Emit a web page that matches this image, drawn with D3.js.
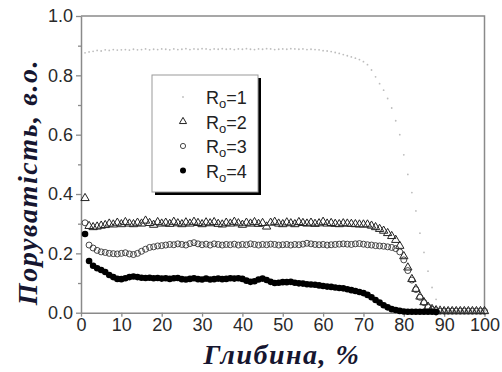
<!DOCTYPE html>
<html>
<head>
<meta charset="utf-8">
<script src="https://cdn.jsdelivr.net/npm/d3@7"></script>
<style>
  body { margin: 0; background: #fff; }
  svg { display: block; }
</style>
</head>
<body>
<script>
// depth grid, %
const depth = [1,2,3,4,5,6,7,8,9,10,11,12,13,14,15,16,17,18,19,20,
  21,22,23,24,25,26,27,28,29,30,31,32,33,34,35,36,37,38,39,40,
  41,42,43,44,45,46,47,48,49,50,51,52,53,54,55,56,57,58,59,60,
  61,62,63,64,65,66,67,68,69,70,71,72,73,74,75,76,77,78,79,80,
  81,82,83,84,85,86,87,88,89,90,91,92,93,94,95,96,97,98,99,100];

const r1 = [.876,.879,.881,.884,.882,.886,.884,.887,.885,.886,.887,.885,.888,.886,.887,.889,.886,.888,.887,.889,
  .888,.886,.889,.887,.888,.890,.887,.889,.888,.890,.889,.887,.889,.888,.890,.888,.889,.887,.889,.888,
  .890,.888,.887,.889,.888,.890,.889,.887,.888,.889,.888,.890,.889,.888,.889,.887,.888,.887,.886,.883,
  .882,.880,.877,.874,.870,.866,.862,.858,.853,.846,.836,.818,.795,.772,.750,.722,.690,.647,.600,.532,
  .466,.405,.343,.268,.203,.140,.085,.045,.022,.012,.008,.006,.005,.005,.004,.004,.004,.004,.004,.004];

const r2 = [.386,.292,.288,.290,.293,.295,.300,.297,.303,.298,.305,.300,.298,.303,.300,.310,.302,.296,.305,.300,
  .303,.299,.306,.301,.298,.304,.300,.306,.302,.298,.304,.301,.305,.299,.297,.303,.300,.306,.301,.296,
  .303,.300,.305,.299,.302,.290,.303,.306,.300,.298,.304,.301,.298,.305,.302,.300,.303,.299,.301,.306,
  .300,.302,.299,.298,.301,.300,.299,.298,.297,.297,.297,.293,.288,.282,.276,.268,.258,.245,.225,.190,
  .152,.113,.080,.054,.035,.020,.012,.008,.006,.005,.005,.005,.005,.005,.005,.005,.005,.005,.005,.005];

const r3 = [.303,.228,.218,.210,.205,.203,.200,.199,.198,.200,.202,.198,.196,.200,.207,.214,.220,.222,.225,.226,
  .228,.230,.229,.232,.230,.228,.233,.236,.232,.229,.231,.228,.232,.230,.228,.230,.229,.231,.228,.230,
  .229,.232,.230,.228,.230,.229,.231,.230,.228,.229,.230,.228,.230,.229,.231,.234,.232,.230,.229,.230,
  .228,.229,.230,.231,.232,.231,.230,.232,.233,.231,.229,.228,.226,.225,.224,.222,.220,.216,.205,.178,
  .142,.110,.078,.052,.034,.020,.011,.007,.005,.005,.005,.005,.005,.005,.005,.005,.005,.005,.005,.005];

const r4 = [.265,.174,.158,.150,.144,.137,.127,.120,.114,.113,.116,.120,.122,.120,.118,.117,.118,.116,.117,.115,
  .116,.114,.116,.117,.113,.112,.114,.116,.113,.112,.115,.112,.113,.115,.113,.114,.116,.115,.116,.114,
  .108,.104,.106,.112,.115,.110,.104,.100,.101,.103,.103,.104,.101,.099,.098,.096,.095,.094,.092,.090,
  .088,.087,.085,.083,.082,.079,.076,.073,.070,.066,.060,.052,.043,.034,.025,.018,.012,.009,.006,.004,
  .003,.003,.003,.003,.003,.003,.003,.002];

const seriesNames = ['1', '2', '3', '4'];
const xTicks = [0, 10, 20, 30, 40, 50, 60, 70, 80, 90, 100];
const yTicks = [0, 0.2, 0.4, 0.6, 0.8, 1.0];
const yMinor = [0.1, 0.3, 0.5, 0.7, 0.9];

const width = 502, height = 372;
const plot = {left: 81, top: 16, right: 484.5, bottom: 312.7};

const svg = d3.select('body').append('svg')
  .attr('width', width).attr('height', height);

const x = d3.scaleLinear().domain([0, 100]).range([plot.left, plot.right]);
const y = d3.scaleLinear().domain([0, 1]).range([plot.bottom, plot.top]);

const axisColor = '#8a8a8a';
const labelFont = '"Liberation Sans", Arial, sans-serif';

// frame top + right
svg.append('path')
  .attr('d', `M${plot.left},${plot.top}H${plot.right}V${plot.bottom}`)
  .attr('fill', 'none').attr('stroke', axisColor).attr('stroke-width', 1.5);

svg.append('g')
  .attr('transform', `translate(0,${plot.bottom})`)
  .call(d3.axisBottom(x).tickValues(xTicks).tickSize(4).tickSizeOuter(0).tickPadding(2));

svg.append('g')
  .attr('transform', `translate(${plot.left},0)`)
  .call(d3.axisLeft(y).tickValues(yTicks).tickFormat(d3.format('.1f')).tickSize(5).tickSizeOuter(0).tickPadding(3));

svg.append('g')
  .attr('transform', `translate(${plot.left},0)`)
  .call(d3.axisLeft(y).tickValues(yMinor).tickFormat('').tickSize(3).tickSizeOuter(0))
  .select('.domain').remove();

svg.selectAll('.domain').attr('stroke', axisColor).attr('stroke-width', 1.5);
svg.selectAll('.tick line').attr('stroke', axisColor).attr('stroke-width', 1.3);
svg.selectAll('.tick text')
  .attr('font-family', labelFont).attr('font-size', 18).attr('fill', '#2a2a2a');

// data
const plotG = svg.append('g');

const pts = (vals) => vals.map((v, i) => ({x: depth[i], y: v}));

plotG.append('g').selectAll('circle').data(pts(r1)).join('circle')
  .attr('cx', d => x(d.x)).attr('cy', d => y(d.y)).attr('r', 0.9)
  .attr('fill', '#bdbdbd');

const tri = d3.symbol().type(d3.symbolTriangle).size(30);
plotG.append('g').selectAll('path').data(pts(r2)).join('path')
  .attr('d', tri)
  .attr('transform', d => `translate(${x(d.x)},${y(d.y)})`)
  .attr('fill', 'none').attr('stroke', '#222').attr('stroke-width', 1);

plotG.append('g').selectAll('circle').data(pts(r3)).join('circle')
  .attr('cx', d => x(d.x)).attr('cy', d => y(d.y)).attr('r', 3)
  .attr('fill', 'none').attr('stroke', '#333').attr('stroke-width', 0.9);

plotG.append('g').selectAll('circle').data(pts(r4)).join('circle')
  .attr('cx', d => x(d.x)).attr('cy', d => y(d.y)).attr('r', 3.3)
  .attr('fill', '#000');

// legend
const lg = {x: 152, y: 75, w: 106, h: 117};
svg.append('rect')
  .attr('x', lg.x + 3).attr('y', lg.y + 3).attr('width', lg.w).attr('height', lg.h)
  .attr('fill', '#000');
svg.append('rect')
  .attr('x', lg.x).attr('y', lg.y).attr('width', lg.w).attr('height', lg.h)
  .attr('fill', '#fff').attr('stroke', '#9a9a9a').attr('stroke-width', 1);

const rows = svg.append('g').selectAll('g').data(seriesNames).join('g')
  .attr('transform', (d, i) => `translate(${lg.x + 31},${lg.y + 22 + i * 24.5})`);

rows.each(function(d, i) {
  const g = d3.select(this);
  if (i === 0) g.append('circle').attr('r', 0.9).attr('fill', '#bdbdbd');
  if (i === 1) g.append('path').attr('d', d3.symbol().type(d3.symbolTriangle).size(22)).attr('fill', 'none').attr('stroke', '#222').attr('stroke-width', 1);
  if (i === 2) g.append('circle').attr('r', 2.6).attr('fill', 'none').attr('stroke', '#333').attr('stroke-width', 0.9);
  if (i === 3) g.append('circle').attr('r', 3).attr('fill', '#000');
  const t = g.append('text').attr('x', 23).attr('y', 7)
    .attr('font-family', labelFont).attr('font-size', 18).attr('fill', '#222');
  t.append('tspan').text('R');
  t.append('tspan').attr('dy', 4).attr('font-size', 13).text('o');
  t.append('tspan').attr('dy', -4).text('=' + d);
});

// axis titles
const titleFont = '"Liberation Serif", "Times New Roman", serif';
svg.append('text')
  .attr('x', 282).attr('y', 364)
  .attr('text-anchor', 'middle')
  .attr('font-family', titleFont).attr('font-size', 28)
  .attr('font-weight', 'bold').attr('font-style', 'italic')
  .attr('letter-spacing', 1.5)
  .attr('fill', '#161630')
  .text('Глибина, %');

svg.append('text')
  .attr('transform', 'translate(37,182) rotate(-90)')
  .attr('text-anchor', 'middle')
  .attr('font-family', titleFont).attr('font-size', 28)
  .attr('font-weight', 'bold').attr('font-style', 'italic')
  .attr('letter-spacing', 1.6)
  .attr('fill', '#161630')
  .text('Поруватість, в.о.');
</script>
</body>
</html>
